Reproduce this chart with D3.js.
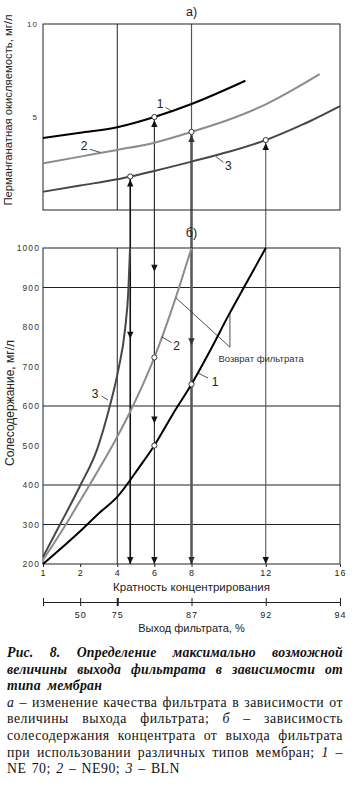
<!DOCTYPE html>
<html><head><meta charset="utf-8">
<script src="https://cdn.jsdelivr.net/npm/d3@7"></script>
<style>
html,body{margin:0;padding:0;background:#fff;}
svg{display:block;}
.ax{font-family:"Liberation Sans",Arial,sans-serif;fill:#222;}
.cap{font-family:"Liberation Serif","DejaVu Serif","Times New Roman",serif;font-size:13.8px;fill:#111;letter-spacing:0.5px;}
.bi{font-weight:bold;font-style:italic;letter-spacing:0.2px;}
</style></head><body>
<svg id="c" width="355" height="786"></svg>
<script>
// ---------- DATA ----------
const kTicks=[1,2,4,6,8,12,16];
const kTickLabels=["1","2","4","6","8","12","16"];
const yieldTickK=[1,2,4,8,12,16];
const yieldTickLabels=["","50","75","87","92","94"];
const topTicks=[10,5];
const botTicks=[200,300,400,500,600,700,800,900,1000];
const botGrid=[900,600,400,300];

// a) permanganate oxidability vs concentration factor
const top1K=[1,2,4,6,8,10.9],              top1V=[3.87,4.15,4.45,5.0,5.7,6.95];
const top2K=[1,2,4,6,8,10,12,14.9],        top2V=[2.5,2.87,3.23,3.62,4.2,4.85,5.68,7.3];
const top3K=[1,2,4,4.7,6,8,10,12,14,16],   top3V=[0.98,1.32,1.65,1.8,2.1,2.6,3.13,3.76,4.6,5.59];

// б) salt content vs concentration factor
const bot1K=[1,2,3,4,5.2,6,7,8,9,10,11,12];
const bot1V=[200,283,328,370,446,500,580,655,740,830,915,1000];
const bot2K=[1,1.57,2,2.53,3,4,4.7,6,7,8];
const bot2V=[210,293,360,402,439,522,586,723,853,1000];
const bot3K=[1,1.38,2,2.92,3.55,4.06,4.42,4.6,4.69];
const bot3V=[218,286,398,491,591,692,794,894,1000];

const topMarkK=[4.7,6,8,12], topMarkV=[1.8,5.0,4.2,3.76];
const botMarkK=[6,6,8],      botMarkV=[500,723,655];
const downArrowK=[4.7,4.7,6,6,6,8,8,12], downArrowV=[770,200,940,556,200,754,200,200];

const seriesNames=["1","2","3"];
const returnLabel="Возврат фильтрата";

// ---------- SCALES ----------
const svg=d3.select("#c");
const L=43,R=340;
const x=d3.scaleLinear().domain(kTicks).range([0,1,2,3,4,6,8].map(u=>L+u*(R-L)/8));
const yT=d3.scaleLinear().domain([0,10]).range([210,24]);
const yB=d3.scaleLinear().domain([200,1000]).range([564,248]);

const col={1:"#000",2:"#8c8c8c",3:"#474747"};

// ---------- FRAMES & GRID ----------
const g=svg.append("g");
g.selectAll(".hg").data(botGrid).join("line")
 .attr("x1",L).attr("x2",R).attr("y1",d=>yB(d)).attr("y2",d=>yB(d))
 .attr("stroke","#222").attr("stroke-width",1);
g.append("line").attr("x1",x(4)).attr("x2",x(4)).attr("y1",yT(10)).attr("y2",yT(0)).attr("stroke","#222");
g.append("line").attr("x1",x(8)).attr("x2",x(8)).attr("y1",yT(10)).attr("y2",yT(0)).attr("stroke","#555").attr("stroke-width",1.2);
g.append("line").attr("x1",x(4)).attr("x2",x(4)).attr("y1",yB(1000)).attr("y2",yB(200)).attr("stroke","#222");

const arrowStyle=[{c:"#111",w:1.6},{c:"#222",w:1.1},{c:"#5a5a5a",w:2.6},{c:"#555",w:1.1}];
topMarkK.forEach((k,i)=>{
  g.append("line").attr("x1",x(k)).attr("x2",x(k)).attr("y1",yT(topMarkV[i])).attr("y2",yB(200))
   .attr("stroke",arrowStyle[i].c).attr("stroke-width",arrowStyle[i].w);
});

g.append("rect").attr("x",L).attr("y",yT(10)).attr("width",R-L).attr("height",yT(0)-yT(10))
 .attr("fill","none").attr("stroke","#222");
g.append("rect").attr("x",L).attr("y",yB(1000)).attr("width",R-L).attr("height",yB(200)-yB(1000))
 .attr("fill","none").attr("stroke","#222");

// ---------- CURVES ----------
const lineT=d3.line().x(d=>x(d[0])).y(d=>yT(d[1])).curve(d3.curveMonotoneX);
const lineB=d3.line().x(d=>x(d[0])).y(d=>yB(d[1])).curve(d3.curveMonotoneX);
const zipp=(a,b)=>a.map((v,i)=>[v,b[i]]);
[[top1K,top1V,1],[top2K,top2V,2],[top3K,top3V,3]].forEach(([k,v,c])=>{
  g.append("path").attr("d",lineT(zipp(k,v))).attr("fill","none").attr("stroke",col[c]).attr("stroke-width",2);
});
[[bot1K,bot1V,1],[bot2K,bot2V,2],[bot3K,bot3V,3]].forEach(([k,v,c])=>{
  g.append("path").attr("d",lineB(zipp(k,v))).attr("fill","none").attr("stroke",col[c]).attr("stroke-width",2);
});

// ---------- ARROWHEADS ----------
const upTri=(cx,tip)=>`M${cx},${tip} L${cx-3.2},${tip+7} L${cx+3.2},${tip+7} Z`;
const dnTri=(cx,tip)=>`M${cx},${tip} L${cx-3.2},${tip-7} L${cx+3.2},${tip-7} Z`;
topMarkK.forEach((k,i)=>{
  g.append("path").attr("d",upTri(x(k),yT(topMarkV[i])+3)).attr("fill",i==2?"#333":"#111");
});
downArrowK.forEach((k,i)=>{
  g.append("path").attr("d",dnTri(x(k),yB(downArrowV[i]))).attr("fill",k===8?"#333":"#111");
});

// ---------- MARKERS ----------
topMarkK.forEach((k,i)=>g.append("circle").attr("cx",x(k)).attr("cy",yT(topMarkV[i])).attr("r",2.6)
  .attr("fill","#fff").attr("stroke","#333").attr("stroke-width",1));
botMarkK.forEach((k,i)=>g.append("circle").attr("cx",x(k)).attr("cy",yB(botMarkV[i])).attr("r",2.6)
  .attr("fill","#fff").attr("stroke","#333").attr("stroke-width",1));

// ---------- CURVE LABELS ----------
const ann=[
 {s:yT,k:6.93,v:5.32,lx:-6,ly:-3.7,tx:-11.5,ty:-3,t:seriesNames[0]},
 {s:yT,k:3.07,v:3.10,lx:-10,ly:-3,tx:-16,ty:-2.5,t:seriesNames[1]},
 {s:yT,k:9.32,v:2.87,lx:7.3,ly:5.6,tx:12.3,ty:13,t:seriesNames[2]},
 {s:yB,k:3.5,v:615,lx:-6.3,ly:-4,tx:-13,ty:-2.5,t:seriesNames[2]},
 {s:yB,k:6.39,v:775,lx:10,ly:5.7,tx:15,ty:13,t:seriesNames[1]},
 {s:yB,k:8.35,v:683.5,lx:10,ly:5,tx:17,ty:12.5,t:seriesNames[0]}
];
ann.forEach(a=>{
  const px=x(a.k),py=a.s(a.v);
  g.append("line").attr("x1",px).attr("y1",py).attr("x2",px+a.lx).attr("y2",py+a.ly).attr("stroke","#222").attr("stroke-width",0.8);
  g.append("text").attr("class","ax").attr("x",px+a.tx).attr("y",py+a.ty).attr("text-anchor","middle")
   .style("font-size","12px").text(a.t);
});
g.append("line").attr("x1",x(7.16)).attr("y1",yB(874)).attr("x2",x(10.07)).attr("y2",yB(749)).attr("stroke","#222").attr("stroke-width",0.8);
g.append("line").attr("x1",x(10.07)).attr("y1",yB(836)).attr("x2",x(10.07)).attr("y2",yB(749)).attr("stroke","#222").attr("stroke-width",0.8);
g.append("text").attr("class","ax").attr("x",x(9.45)).attr("y",yB(712)).style("font-size","9.5px").style("fill","#333").text(returnLabel);

// ---------- AXES ----------
const axK=svg.append("g").attr("class","ax").attr("transform",`translate(0,${yB(200)})`)
 .call(d3.axisBottom(x).tickValues(kTicks).tickSize(3).tickSizeOuter(0).tickPadding(3).tickFormat((d,i)=>kTickLabels[i]));
axK.select(".domain").remove();
axK.selectAll("text").style("font-size","9px").style("letter-spacing","1px").attr("fill","#222").attr("font-family",null);
axK.selectAll("line").attr("stroke","#222");

const axY=svg.append("g").attr("class","ax").attr("transform",`translate(${L},0)`)
 .call(d3.axisLeft(yB).tickValues(botTicks).tickSize(0).tickPadding(3).tickFormat(d3.format("d")));
axY.select(".domain").remove();
axY.selectAll("text").style("font-size","8.5px").style("letter-spacing","1.1px").attr("fill","#333").attr("font-family",null);

const axT=svg.append("g").attr("class","ax").attr("transform",`translate(${L},0)`)
 .call(d3.axisLeft(yT).tickValues(topTicks).tickSize(0).tickPadding(5).tickFormat(d3.format("d")));
axT.select(".domain").remove();
axT.selectAll("text").style("font-size","8px").style("letter-spacing","1px").attr("fill","#333").attr("font-family",null);

const axYield=svg.append("g").attr("class","ax").attr("transform","translate(0,602)")
 .call(d3.axisBottom(x).tickValues(yieldTickK).tickSize(4).tickSizeOuter(0).tickPadding(6).tickFormat((d,i)=>yieldTickLabels[i]));
axYield.select(".domain").attr("stroke","#222");
axYield.selectAll(".tick line").attr("y1",-4).attr("stroke","#222").attr("stroke-width",(d)=>d===4?2:1);
axYield.selectAll("text").style("font-size","9px").style("letter-spacing","1px").attr("fill","#222").attr("font-family",null);

// ---------- TITLES ----------
const mid=x(8);
svg.append("text").attr("class","ax").attr("x",mid).attr("y",16).attr("text-anchor","middle").style("font-size","12.5px").text("а)");
svg.append("text").attr("class","ax").attr("x",mid).attr("y",237).attr("text-anchor","middle").style("font-size","12.5px").text("б)");
svg.append("text").attr("class","ax").attr("x",mid).attr("y",591).attr("text-anchor","middle").style("font-size","11.5px").text("Кратность концентрирования");
svg.append("text").attr("class","ax").attr("x",mid).attr("y",632).attr("text-anchor","middle").style("font-size","11px").text("Выход фильтрата, %");
svg.append("text").attr("class","ax").attr("transform","translate(12,110) rotate(-90)").attr("text-anchor","middle").style("font-size","11.3px").text("Перманганатная окисляемость, мг/л");
svg.append("text").attr("class","ax").attr("transform","translate(14,403) rotate(-90)").attr("text-anchor","middle").style("font-size","12px").text("Солесодержание, мг/л");

// ---------- CAPTION ----------
const capLines=[
 {y:657,  r:343, bi:true,  w:[[["Рис."]],[["8."]],[["Определение"]],[["максимально"]],[["возможной"]]]},
 {y:673.6,r:343, bi:true,  w:[[["величины"]],[["выхода"]],[["фильтрата"]],[["в"]],[["зависимости"]],[["от"]]]},
 {y:690.2,r:102, bi:true,  w:[[["типа"]],[["мембран"]]]},
 {y:706.8,r:343, bi:false, w:[[["а",1]],[["–"]],[["изменение"]],[["качества"]],[["фильтрата"]],[["в"]],[["зависимости"]],[["от"]]]},
 {y:723.4,r:343, bi:false, w:[[["величины"]],[["выхода"]],[["фильтрата;"]],[["б",1]],[["–"]],[["зависимость"]]]},
 {y:740,  r:343, bi:false, w:[[["солесодержания"]],[["концентрата"]],[["от"]],[["выхода"]],[["фильтрата"]]]},
 {y:756.6,r:343, bi:false, w:[[["при"]],[["использовании"]],[["различных"]],[["типов"]],[["мембран;"]],[["1",1]],[["–"]]]},
 {y:773.2,r:180, bi:false, w:[[["NE"]],[["70;"]],[["2",1]],[["–"]],[["NE90;"]],[["3",1]],[["–"]],[["BLN"]]]}
];
const cg=svg.append("g");
capLines.forEach(ln=>{
  const nodes=ln.w.map(word=>{
    const t=cg.append("text").attr("class","cap"+(ln.bi?" bi":"")).attr("y",ln.y);
    word.forEach(seg=>t.append("tspan").text(seg[0]).style("font-style",seg[1]?"italic":null));
    return t;
  });
  const widths=nodes.map(n=>n.node().getComputedTextLength());
  const total=d3.sum(widths);
  const gap=Math.max(2,(ln.r-7-total)/(nodes.length-1));
  let xx=7;
  nodes.forEach((n,i)=>{n.attr("x",xx);xx+=widths[i]+gap;});
});
</script>
</body></html>
